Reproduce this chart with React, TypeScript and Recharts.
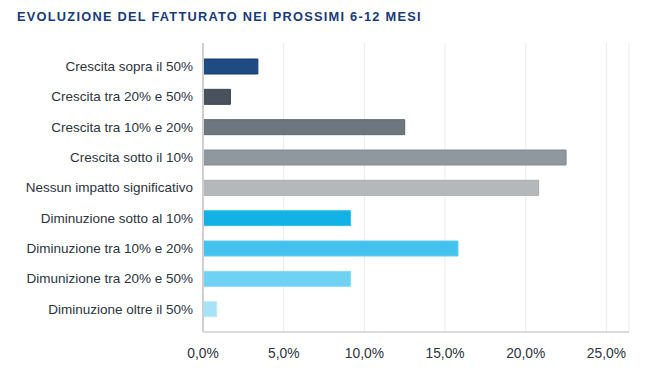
import React from 'react';
import { BarChart, Bar, XAxis, YAxis, CartesianGrid, Cell } from 'recharts';

const categories = [
  'Crescita sopra il 50%',
  'Crescita tra 20% e 50%',
  'Crescita tra 10% e 20%',
  'Crescita sotto il 10%',
  'Nessun impatto significativo',
  'Diminuzione sotto al 10%',
  'Diminuzione tra 10% e 20%',
  'Dimunizione tra 20% e 50%',
  'Diminuzione oltre il 50%',
];
const values = [3.4, 1.7, 12.5, 22.5, 20.8, 9.15, 15.8, 9.15, 0.85];
const xTicks = [0, 5, 10, 15, 20, 25];
const fills = ['#1f4b83', '#47525c', '#6b767e', '#8f989e', '#b4b8bb', '#12b2e6', '#42c2ec', '#6fd2f2', '#a6e3f7'];
const strokes = ['#123d74', '#3b454e', '#5e6870', '#818a90', '#a8acaf', '#3cc0ec', '#62ccf0', '#8bdaf4', '#bdeafa'];

const data = categories.map((name, i) => ({ name, value: values[i] }));

const fmt = (v: number) => v.toFixed(1).replace('.', ',') + '%';

export default function App() {
  return (
    <div style={{ position: 'fixed', left: 0, top: 0, width: 650, height: 370, background: '#fff', fontFamily: '"Liberation Sans", Arial, sans-serif' }}>
      <div style={{ position: 'absolute', left: 17, top: 9, fontSize: 12.8, fontWeight: 700, letterSpacing: 1.25, color: '#173a7a', whiteSpace: 'nowrap' }}>
        EVOLUZIONE DEL FATTURATO NEI PROSSIMI 6-12 MESI
      </div>
      <BarChart
        width={650}
        height={370}
        data={data}
        layout="vertical"
        margin={{ top: 43, right: 21, bottom: 8, left: 0 }}
        barCategoryGap={0}
      >
        <CartesianGrid horizontal={false} stroke="#ebebeb" />
        <XAxis
          type="number"
          domain={[0, 26.4]}
          ticks={xTicks}
          tickFormatter={fmt}
          axisLine={{ stroke: '#b8b8b8' }}
          tickLine={false}
          tickMargin={10}
          height={30}
          tick={{ fill: '#2b3440', fontSize: 13.8 }}
          allowDataOverflow
        />
        <YAxis
          type="category"
          dataKey="name"
          width={203}
          axisLine={{ stroke: '#cfcfcf', strokeWidth: 2 }}
          tickLine={false}
          tickSize={0}
          tickMargin={10}
          padding={{ top: 8, bottom: 8 }}
          tick={{ fill: '#2b3440', fontSize: 13.5 }}
          interval={0}
        />
        <Bar dataKey="value" barSize={15} isAnimationActive={false}>
          {data.map((d, i) => (
            <Cell key={d.name} fill={fills[i]} stroke={strokes[i]} strokeWidth={1} />
          ))}
        </Bar>
      </BarChart>
    </div>
  );
}
